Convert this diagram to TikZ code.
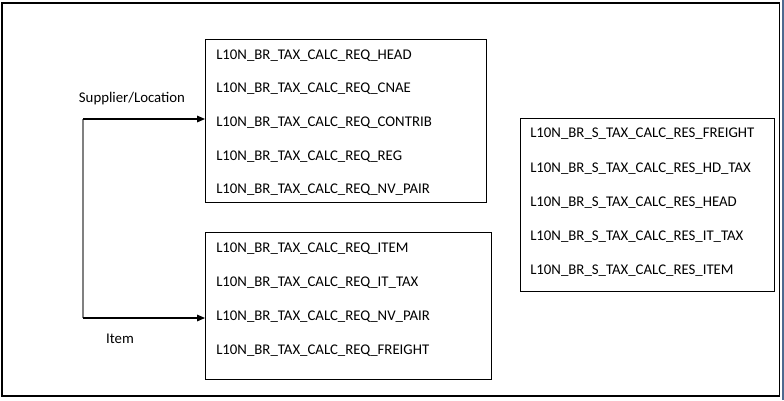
\documentclass[tikz,border=0pt]{standalone}
\usepackage{fontspec}
\setmainfont{Carlito}
\usetikzlibrary{arrows.meta,positioning}
\definecolor{barblue}{RGB}{79,106,143}
\tikzstyle{tablebox} = [rectangle, draw=black, line width=0.8pt, fill=white, inner sep=0pt]
\tikzstyle{tablename} = [anchor=base west, inner sep=0pt, font=\fontsize{11.1}{13}\selectfont]
\tikzstyle{label} = [anchor=base, inner sep=0pt, font=\fontsize{11.1}{13}\selectfont]
\tikzstyle{arrow} = [line width=0.8pt, -{Triangle[length=6pt,width=5pt]}]

\begin{document}
\begin{tikzpicture}[x=0.75pt, y=-0.75pt] % 1 unit = 1 px
            \useasboundingbox (0,0) rectangle (784,400);
            % outer frame
            \fill[barblue] (781.5,0) rectangle (784,400);
            \draw[line width=1.1pt] (2,3) rectangle (779.5,396);

            % request tables (supplier/location)
            \node (reqsup) [tablebox, minimum width=281*0.75pt, minimum height=163*0.75pt, anchor=north west] at (205,39) {};
            \node (rqhead)    [tablename] at (216,59)  {L10N\_BR\_TAX\_CALC\_REQ\_HEAD};
            \node (rqcnae)    [tablename] at (216,92)  {L10N\_BR\_TAX\_CALC\_REQ\_CNAE};
            \node (rqcontrib) [tablename] at (216,126) {L10N\_BR\_TAX\_CALC\_REQ\_CONTRIB};
            \node (rqreg)     [tablename] at (216,160) {L10N\_BR\_TAX\_CALC\_REQ\_REG};
            \node (rqnvpair)  [tablename] at (216,193) {L10N\_BR\_TAX\_CALC\_REQ\_NV\_PAIR};

            % request tables (item)
            \node (reqitem) [tablebox, minimum width=286*0.75pt, minimum height=147*0.75pt, anchor=north west] at (205,232) {};
            \node (rqitem)    [tablename] at (216,252) {L10N\_BR\_TAX\_CALC\_REQ\_ITEM};
            \node (rqittax)   [tablename] at (216,286) {L10N\_BR\_TAX\_CALC\_REQ\_IT\_TAX};
            \node (rqitnv)    [tablename] at (216,320) {L10N\_BR\_TAX\_CALC\_REQ\_NV\_PAIR};
            \node (rqfreight) [tablename] at (216,354) {L10N\_BR\_TAX\_CALC\_REQ\_FREIGHT};

            % result tables
            \node (result) [tablebox, minimum width=254*0.75pt, minimum height=173*0.75pt, anchor=north west] at (520,118) {};
            \node (rsfreight) [tablename] at (530,137) {L10N\_BR\_S\_TAX\_CALC\_RES\_FREIGHT};
            \node (rshdtax)   [tablename] at (530,172) {L10N\_BR\_S\_TAX\_CALC\_RES\_HD\_TAX};
            \node (rshead)    [tablename] at (530,206) {L10N\_BR\_S\_TAX\_CALC\_RES\_HEAD};
            \node (rsittax)   [tablename] at (530,240) {L10N\_BR\_S\_TAX\_CALC\_RES\_IT\_TAX};
            \node (rsitem)    [tablename] at (530,274) {L10N\_BR\_S\_TAX\_CALC\_RES\_ITEM};

            % labels
            \node (suplabel)  [label] at (132,102) {Supplier/Location};
            \node (itemlabel) [label] at (120,343) {Item};

            % connectors
            \coordinate (topturn) at (83,119);
            \coordinate (botturn) at (83,318);
            \draw[gray, line width=1.1pt] (topturn) -- (botturn);
            \draw [arrow] (topturn) -- (topturn -| reqsup.west);
            \draw [arrow] (botturn) -- (botturn -| reqitem.west);

        \end{tikzpicture}
\end{document}
